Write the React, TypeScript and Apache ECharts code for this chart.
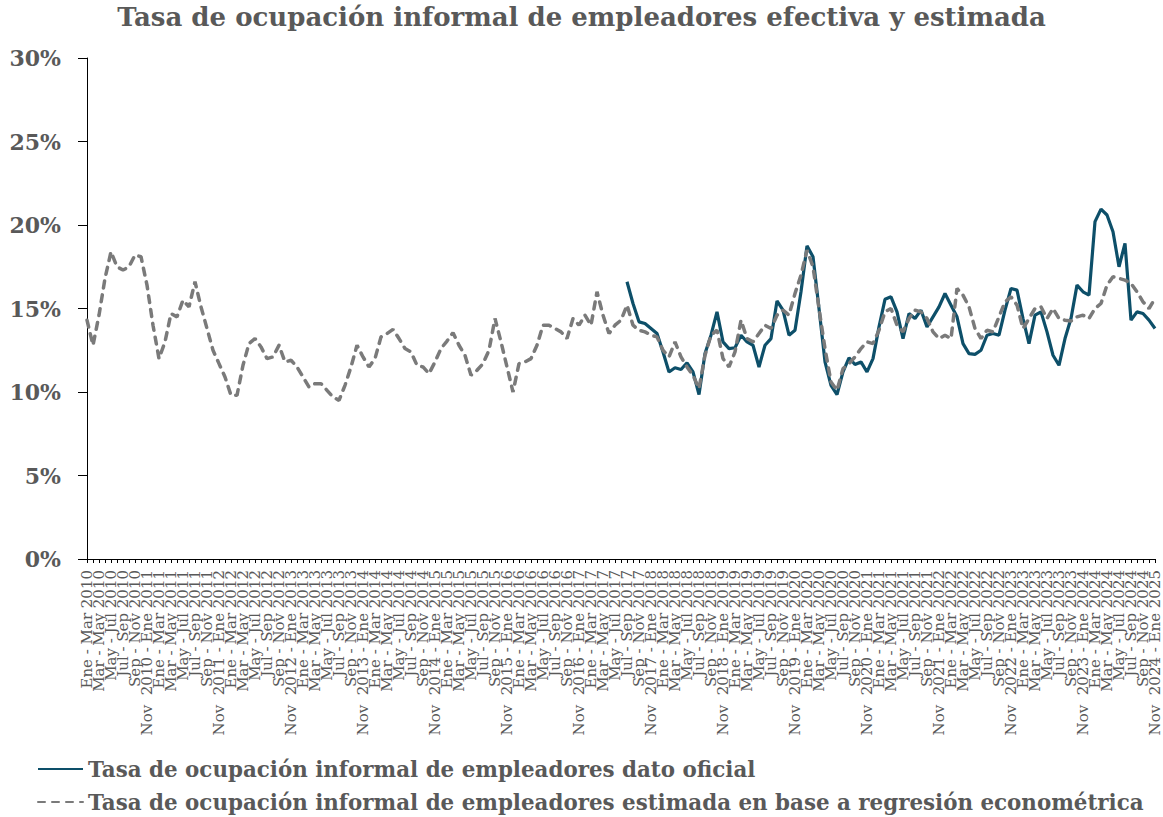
import React, { useEffect, useRef } from "react";
import * as echarts from "echarts";

const TITLE = "Tasa de ocupación informal de empleadores efectiva y estimada";
const NAME_OFICIAL = "Tasa de ocupación informal de empleadores dato oficial";
const NAME_ESTIMADA =
  "Tasa de ocupación informal de empleadores estimada en base a regresión econométrica";

const MONTHS = ["Ene", "Feb", "Mar", "Abr", "May", "Jun", "Jul", "Ago", "Sep", "Oct", "Nov", "Dic"];
const START_YEAR = 2010;
const N_PERIODS = 179;

// Rolling quarters: "Ene - Mar 2010", ..., "Nov 2024 - Ene 2025"
const categories: string[] = [];
for (let i = 0; i < N_PERIODS; i++) {
  const y = START_YEAR + Math.floor(i / 12);
  const m = i % 12;
  const e = m + 2;
  if (e < 12) categories.push(`${MONTHS[m]} - ${MONTHS[e]} ${y}`);
  else categories.push(`${MONTHS[m]} ${y} - ${MONTHS[e - 12]} ${y + 1}`);
}

// Estimated series (%), Ene-Mar 2010 .. Nov 2024-Ene 2025
const estimada: number[] = [
  14.3, 12.8, 14.6, 16.8, 18.4, 17.5, 17.3, 17.5, 18.2, 18.1,
  16.4, 14.0, 12.0, 13.0, 14.7, 14.5, 15.5, 15.1, 16.6, 15.1,
  13.8, 12.5, 11.7, 10.9, 9.8, 9.8, 11.6, 12.9, 13.2, 12.7,
  12.0, 12.1, 12.8, 11.8, 11.9, 11.5, 10.9, 10.3, 10.5, 10.5,
  10.1, 9.7, 9.5, 10.4, 11.5, 12.8, 12.1, 11.5, 12.0, 13.3,
  13.5, 13.75, 13.2, 12.6, 12.4, 11.6, 11.5, 11.1, 11.8, 12.6,
  13.05, 13.55, 12.8, 12.2, 11.0, 11.3, 11.7, 12.5, 14.4, 13.0,
  11.5, 10.0, 11.7, 11.8, 12.0, 12.8, 14.0, 14.0, 13.8, 13.6,
  13.2, 14.4, 14.0, 14.6, 14.0, 16.0, 14.6, 13.5, 14.0, 14.3,
  15.2, 14.0, 13.7, 13.6, 13.4, 13.3, 12.5, 12.1, 13.0, 12.1,
  11.5, 11.0, 10.2, 12.2, 13.4, 13.7, 12.0, 11.5, 12.4, 14.3,
  13.2, 13.0, 13.5, 14.0, 13.8, 14.6, 14.9, 14.6, 15.9, 17.0,
  18.5, 17.5, 15.0, 12.6, 10.6, 10.1, 11.4, 11.7, 12.1, 12.6,
  13.0, 12.9, 13.7, 14.8, 15.0, 14.0, 13.6, 14.4, 14.9, 14.8,
  14.4, 13.6, 13.2, 13.4, 13.2, 16.2, 15.8, 15.1, 13.8, 13.2,
  13.7, 13.6, 14.5, 15.4, 15.7, 15.2, 13.8, 14.4, 15.0, 15.1,
  14.4, 15.0, 14.4, 14.3, 14.25, 14.5, 14.6, 14.4, 15.0, 15.3,
  16.4, 16.9, 16.8, 16.7, 16.5, 16.0, 15.4, 15.0, 15.6,
];

// Official series (%), starts Jul - Sep 2017
const OFICIAL_START = 90;
const oficialValues: number[] = [
  16.6, 15.3, 14.2, 14.1, 13.8, 13.5, 12.4, 11.2, 11.45, 11.35,
  11.75, 11.2, 9.85, 12.3, 13.4, 14.8, 13.0, 12.6, 12.65, 13.4,
  13.0, 12.8, 11.5, 12.8, 13.2, 15.45, 14.9, 13.4, 13.7, 16.0,
  18.75, 18.1, 15.0, 11.8, 10.4, 9.85, 11.2, 12.05, 11.65, 11.8,
  11.2, 12.0, 13.9, 15.55, 15.7, 14.8, 13.2, 14.7, 14.4, 14.9,
  13.9, 14.5, 15.1, 15.9, 15.2, 14.5, 12.9, 12.3, 12.25, 12.5,
  13.4, 13.5, 13.4, 14.9, 16.2, 16.1, 14.4, 12.9, 14.6, 14.8,
  13.6, 12.2, 11.6, 13.2, 14.4, 16.4, 16.0, 15.8, 20.2, 20.95,
  20.6, 19.6, 17.5, 18.9, 14.3, 14.8, 14.7, 14.3, 13.8,
];

const Y_MIN = 0;
const Y_MAX = 30;
const Y_STEP = 5;

const FONT = "'DejaVu Serif', 'Liberation Serif', serif";
const TEXT = "#595959";
const C_OFICIAL = "#0D4F69";
const C_ESTIMADA = "#7A7A7A";

export default function App() {
  const ref = useRef<HTMLDivElement>(null);

  useEffect(() => {
    if (!ref.current) return;
    const chart = echarts.init(ref.current, undefined, { renderer: "svg" });
    const oficial: (number | null)[] = categories.map((_, i) =>
      i >= OFICIAL_START && i - OFICIAL_START < oficialValues.length
        ? oficialValues[i - OFICIAL_START]
        : null
    );

    chart.setOption({
      animation: false,
      backgroundColor: "#ffffff",
      textStyle: { fontFamily: FONT },
      title: {
        text: TITLE,
        left: "center",
        top: 4,
        padding: 0,
        textStyle: { fontFamily: FONT, fontSize: 26, fontWeight: "bold", color: TEXT },
      },
      grid: { left: 87, right: 8, top: 58, bottom: 258, containLabel: false },
      legend: {
        orient: "vertical",
        left: 37,
        top: 758,
        padding: 0,
        itemGap: 11,
        itemWidth: 45,
        itemHeight: 14,
        itemStyle: { opacity: 0 },
        data: [NAME_OFICIAL, NAME_ESTIMADA],
        textStyle: {
          fontFamily: FONT,
          fontSize: 21.4,
          lineHeight: 22,
          fontWeight: "bold",
          color: TEXT,
          padding: [0, 0, 0, 0],
        },
      },
      xAxis: {
        type: "category",
        data: categories,
        boundaryGap: false,
        axisLine: { lineStyle: { color: "#000", width: 1 } },
        axisTick: { show: true, interval: 0, length: 4, lineStyle: { color: "#000" } },
        axisLabel: {
          interval: 0,
          rotate: 90,
          margin: 11,
          fontFamily: FONT,
          fontSize: 15,
          color: TEXT,
          formatter: (v: string, idx: number) =>
            idx % 2 === 0 ? v.replace(/^Nov /, "Nov  ") : "",
        },
        splitLine: { show: false },
      },
      yAxis: {
        type: "value",
        min: Y_MIN,
        max: Y_MAX,
        interval: Y_STEP,
        axisLine: { show: true, lineStyle: { color: "#000", width: 1 } },
        axisTick: { show: true, length: 9, lineStyle: { color: "#000" } },
        splitLine: { show: false },
        axisLabel: {
          margin: 26,
          fontFamily: FONT,
          fontSize: 22,
          fontWeight: "bold",
          color: TEXT,
          formatter: (v: number) => `${v}%`,
        },
      },
      series: [
        {
          name: NAME_OFICIAL,
          type: "line",
          data: oficial,
          symbol: "none",
          connectNulls: false,
          lineStyle: { color: C_OFICIAL, width: 3.2 },
          itemStyle: { color: C_OFICIAL },
        },
        {
          name: NAME_ESTIMADA,
          type: "line",
          data: estimada,
          symbol: "none",
          lineStyle: { color: C_ESTIMADA, width: 3.5, type: [7, 7], cap: "round" },
          itemStyle: { color: C_ESTIMADA },
        },
      ],
    });

    return () => chart.dispose();
  }, []);

  return (
    <div
      ref={ref}
      style={{ position: "fixed", left: 0, top: 0, width: 1163, height: 817, background: "#fff" }}
    />
  );
}
